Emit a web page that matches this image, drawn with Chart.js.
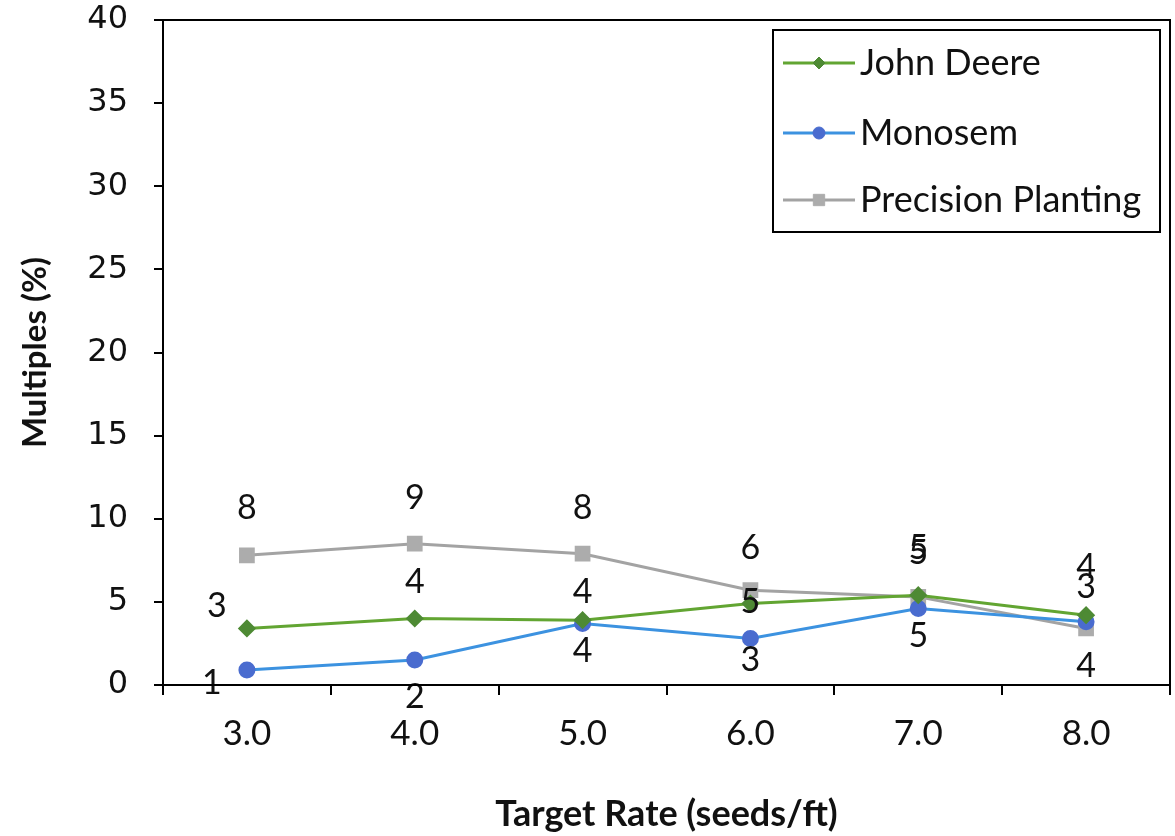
<!DOCTYPE html>
<html><head><meta charset="utf-8">
<script src="https://cdn.jsdelivr.net/npm/chart.js@4/dist/chart.umd.min.js"></script>
<style>html,body{margin:0;padding:0;background:#fff}#wrap{width:1175px;height:836px}</style>
</head><body><div id="wrap"><canvas id="c" width="1175" height="836"></canvas></div>
<script>
const categories = ['3.0','4.0','5.0','6.0','7.0','8.0'];
const johnDeere = [3.4, 4.0, 3.9, 4.9, 5.4, 4.2];
const monosem = [0.9, 1.5, 3.7, 2.8, 4.6, 3.8];
const precisionPlanting = [7.8, 8.5, 7.9, 5.7, 5.3, 3.4];
const johnDeereLabels = ['3','4','4','5','5','4'];
const monosemLabels = ['1','2','4','3','5','4'];
const precisionLabels = ['8','9','8','6','5','3'];
const yTicks = [0,5,10,15,20,25,30,35,40];

const FONT = 'Lato, "Open Sans", sans-serif';

const labelOffsets = {
  0: [[-30,-22],[0,-36],[0,-28],[0,-2],[0,-47],[0,-48]],
  1: [[-35,13],[0,37],[0,28],[0,22],[0,28],[0,44]],
  2: [[0,-47],[0,-46],[0,-46],[0,-42],[0,-44],[0,-41]]
};
const labelTexts = {0: johnDeereLabels, 1: monosemLabels, 2: precisionLabels};

const labelPlugin = {
  id: 'pointLabels',
  afterDatasetsDraw(chart) {
    const ctx = chart.ctx;
    ctx.save();
    ctx.font = '34px ' + FONT;
    ctx.fillStyle = '#111';
    ctx.textAlign = 'center';
    ctx.textBaseline = 'middle';
    chart.data.datasets.forEach((ds, i) => {
      const meta = chart.getDatasetMeta(i);
      meta.data.forEach((pt, j) => {
        const off = labelOffsets[i][j];
        ctx.fillText(labelTexts[i][j], pt.x + off[0], pt.y + off[1]);
      });
    });
    ctx.restore();
  }
};

const framePlugin = {
  id: 'frame',
  afterDraw(chart) {
    const a = chart.chartArea, ctx = chart.ctx;
    ctx.save();
    ctx.strokeStyle = '#000';
    ctx.lineWidth = 2;
    ctx.strokeRect(a.left, a.top, a.right - a.left, a.bottom - a.top);
    // legend
    const lx = 773, ly = 30, lw = 387, lh = 202;
    ctx.fillStyle = '#fff';
    ctx.fillRect(lx, ly, lw, lh);
    ctx.strokeRect(lx, ly, lw, lh);
    const rows = [63, 133, 200];
    chart.data.datasets.forEach((ds, i) => {
      const y = rows[i];
      ctx.strokeStyle = ds.borderColor;
      ctx.lineWidth = 3;
      ctx.beginPath(); ctx.moveTo(783, y); ctx.lineTo(855, y); ctx.stroke();
      ctx.fillStyle = ds.pointBackgroundColor;
      ctx.strokeStyle = ds.pointBorderColor;
      ctx.lineWidth = 1;
      Chart.helpers.drawPoint(ctx, {pointStyle: ds.pointStyle, radius: ds.pointRadius - 1, rotation: 0, borderWidth: 1}, 819, y);
      ctx.fillStyle = '#111';
      ctx.font = '36px ' + FONT;
      ctx.textAlign = 'left';
      ctx.textBaseline = 'middle';
      ctx.fillText(ds.label, 860, y);
    });
    ctx.restore();
  }
};

new Chart(document.getElementById('c'), {
  type: 'line',
  data: {
    labels: categories,
    datasets: [
      {label: 'John Deere', data: johnDeere, borderColor: '#62a532', backgroundColor: '#4e8a34',
       pointBackgroundColor: '#4e8a34', pointBorderColor: '#4e8a34', pointStyle: 'rectRot', pointRadius: 7, borderWidth: 3},
      {label: 'Monosem', data: monosem, borderColor: '#3c92e0', backgroundColor: '#4a6ccf',
       pointBackgroundColor: '#4a6ccf', pointBorderColor: '#4a6ccf', pointStyle: 'circle', pointRadius: 7, borderWidth: 3},
      {label: 'Precision Planting', data: precisionPlanting, borderColor: '#a3a3a3', backgroundColor: '#acacac',
       pointBackgroundColor: '#acacac', pointBorderColor: '#acacac', pointStyle: 'rect', pointRadius: 9, borderWidth: 3}
    ]
  },
  options: {
    responsive: false,
    animation: false,
    events: [],
    layout: {autoPadding: false, padding: {top: 20, right: 5, left: 0, bottom: 0}},
    plugins: {legend: {display: false}, tooltip: {enabled: false}},
    scales: {
      x: {
        offset: true,
        grid: {display: true, drawOnChartArea: false, offset: true, tickLength: 10, color: '#000', lineWidth: 2},
        border: {display: true, color: '#000', width: 2},
        ticks: {color: '#111', font: {family: FONT, size: 35}, padding: 18, maxRotation: 0},
        title: {display: true, text: 'Target Rate (seeds/ft)', color: '#111', font: {family: FONT, size: 36, weight: 'bold'}, padding: {top: 0, bottom: 0}},
        afterFit(s) { s.height = 151; s.paddingLeft = 0; s.paddingRight = 0; }
      },
      y: {
        min: 0, max: 40,
        afterBuildTicks(s) { s.ticks = yTicks.map(v => ({value: v})); },
        grid: {display: true, drawOnChartArea: false, tickLength: 9, color: '#000', lineWidth: 2},
        border: {display: true, color: '#000', width: 2},
        ticks: {color: '#111', font: {family: '"DejaVu Sans", sans-serif', size: 32}, padding: 26},
        title: {display: true, text: 'Multiples (%)', color: '#111', font: {family: FONT, size: 33, weight: 'bold'}, padding: {top: 16, bottom: 0}},
        afterFit(s) { s.width = 163; s.paddingTop = 0; s.paddingBottom = 0; }
      }
    }
  },
  plugins: [labelPlugin, framePlugin]
});
</script></body></html>
